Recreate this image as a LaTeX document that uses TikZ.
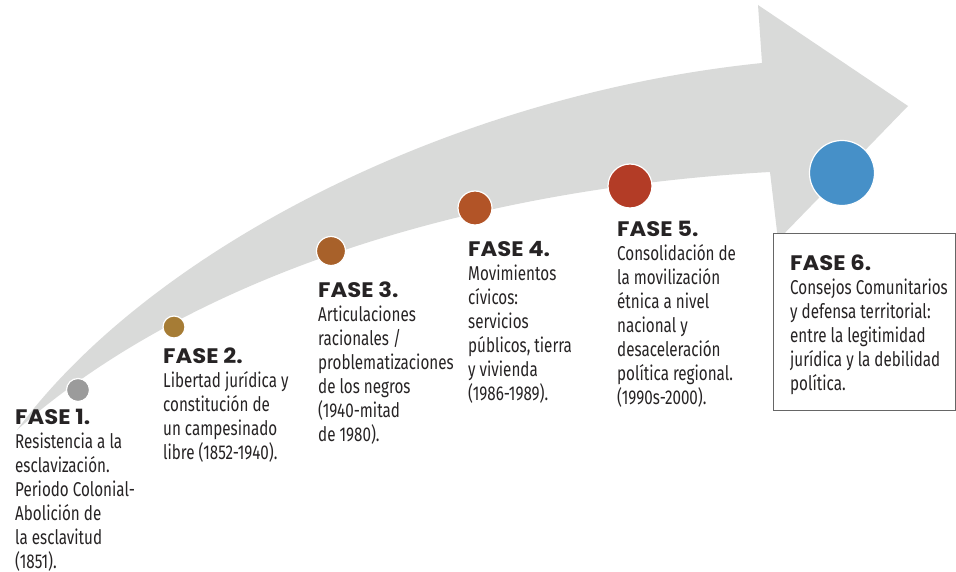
\documentclass[tikz,border=0pt]{standalone}
\usepackage{fontspec}
\setmainfont{Fira Sans}[FakeStretch=0.76]
\newfontfamily\headfont{Poppins}[FakeStretch=1.08]
\definecolor{arrowgray}{HTML}{D9DAD9}
\definecolor{textgray}{HTML}{262324}
\definecolor{col1}{HTML}{9B9B9B}
\definecolor{col2}{HTML}{A67C35}
\definecolor{col3}{HTML}{A8612A}
\definecolor{col4}{HTML}{B25427}
\definecolor{col5}{HTML}{B33C26}
\definecolor{col6}{HTML}{4690C8}
\newcommand{\fase}[1]{{\headfont\bfseries\fontsize{21}{24}\selectfont #1}}
\tikzset{
  dot/.style={circle, draw=white, line width=1.2pt, inner sep=0pt},
  phase/.style={anchor=north west, inner sep=0pt, align=left, text=textgray,
    font=\fontsize{20}{24}\selectfont},
}
\begin{document}
\begin{tikzpicture}[x=1pt, y=-1pt]
      \useasboundingbox (0,0) rectangle (956,572);
      % the arrow
      \fill[arrowgray] (17,430) .. controls (150,250) and (450,95) .. (762,63)
        -- (758,5) -- (908,106) -- (778,240) -- (770,172)
        .. controls (450,190) and (180,285) .. (17,430) -- cycle;
      % phases
      \node[dot, fill=col1, minimum size=23pt] (c1) at (78,390) {};
      \node[dot, fill=col2, minimum size=22pt] (c2) at (174,327) {};
      \node[dot, fill=col3, minimum size=29pt] (c3) at (331,251) {};
      \node[dot, fill=col4, minimum size=34pt] (c4) at (475,208) {};
      \node[dot, fill=col5, minimum size=44pt] (c5) at (630,186) {};
      \node[dot, fill=col6, minimum size=65pt] (c6) at (842,173) {};
      \node[draw=black!60, fill=white, line width=0.8pt, minimum width=182pt,
        minimum height=177pt, anchor=north west, inner sep=0pt] (box) at (773,233) {};
      \node[phase] (f1) at (15,409) {\fase{FASE 1.}\\ Resistencia a la\\ esclavización.\\
        Periodo Colonial-\\ Abolición de\\ la esclavitud\\ (1851).};
      \node[phase] (f2) at (163,348) {\fase{FASE 2.}\\ Libertad jurídica y\\
        constitución de\\ un campesinado\\ libre (1852-1940).};
      \node[phase] (f3) at (318,282) {\fase{FASE 3.}\\ Articulaciones\\ racionales /\\
        problematizaciones\\ de los negros\\ (1940-mitad\\ de 1980).};
      \node[phase] (f4) at (468,241) {\fase{FASE 4.}\\ Movimientos\\ cívicos:\\ servicios\\
        públicos, tierra\\ y vivienda\\ (1986-1989).};
      \node[phase] (f5) at (617,221) {\fase{FASE 5.}\\ Consolidación de\\ la movilización\\
        étnica a nivel\\ nacional y\\ desaceleración\\ política regional.\\ (1990s-2000).};
      \node[phase] (f6) at (790,255) {\fase{FASE 6.}\\ Consejos Comunitarios\\
        y defensa territorial:\\ entre la legitimidad\\ jurídica y la debilidad\\ política.};
    \end{tikzpicture}
\end{document}
